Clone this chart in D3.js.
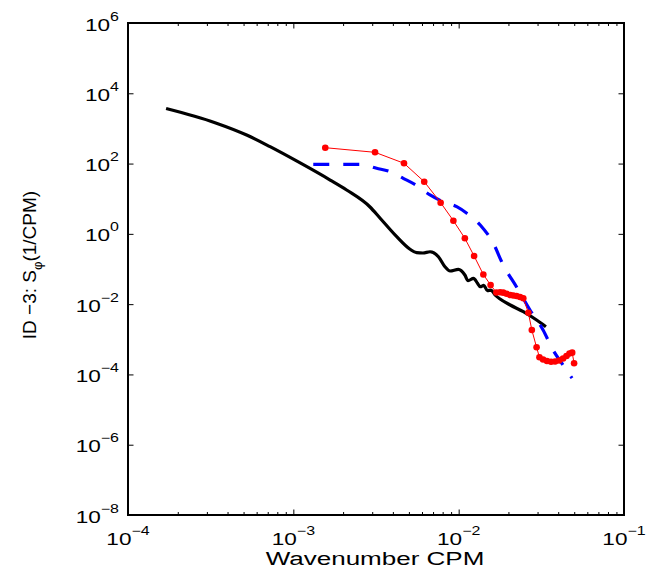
<!DOCTYPE html>
<html>
<head>
<meta charset="utf-8">
<script src="https://cdn.jsdelivr.net/npm/d3@7"></script>
<style>
  body { margin: 0; background: #fff; }
  svg { display: block; }
  text { font-family: "Liberation Sans", Arial, Helvetica, sans-serif; fill: #000; }
</style>
</head>
<body>
<div id="canvas"></div>
<script>
// tick labels (exponents of 10)
var xTicks = [1e-4, 1e-3, 1e-2, 1e-1],
    xTickLabels = ['\u22124', '\u22123', '\u22122', '\u22121'];
var yTicks = [1e-8, 1e-6, 1e-4, 1e-2, 1, 1e2, 1e4, 1e6],
    yTickLabels = ['\u22128', '\u22126', '\u22124', '\u22122', '0', '2', '4', '6'];

// black solid spectrum
var blackK = [1.70e-4, 3.36e-4, 5.22e-4, 7.23e-4, 1.10e-3, 1.67e-3, 2.10e-3, 2.91e-3, 3.34e-3, 4.22e-3,
              5.08e-3, 5.57e-3, 6.08e-3, 6.71e-3, 7.54e-3, 8.26e-3, 8.87e-3, 9.96e-3, 1.09e-2, 1.14e-2,
              1.23e-2, 1.30e-2, 1.35e-2, 1.42e-2, 1.49e-2, 1.57e-2, 1.66e-2, 1.78e-2, 2.05e-2, 2.46e-2,
              2.96e-2, 3.37e-2];
var blackS = [3690, 1460, 650, 302, 104, 34.0, 17.7, 5.81, 2.83, 0.830,
              0.364, 0.291, 0.285, 0.310, 0.224, 0.116, 0.0877, 0.0980, 0.0675, 0.0465,
              0.0543, 0.0392, 0.0313, 0.0344, 0.0242, 0.0252, 0.0182, 0.0140, 0.00946, 0.00610,
              0.00354, 0.00228];

// blue dashed model
var blueK = [1.32e-3, 2.53e-3, 3.19e-3, 3.85e-3, 4.62e-3, 5.52e-3, 6.71e-3, 8.04e-3, 9.73e-3, 1.12e-2,
             1.35e-2, 1.62e-2, 1.86e-2, 2.24e-2, 2.70e-2, 3.24e-2, 3.72e-2, 4.28e-2, 4.85e-2];
var blueS = [95.3, 95.3, 73.3, 58.7, 38.1, 24.5, 12.8, 8.22, 5.93, 3.85,
             1.79, 0.538, 0.130, 0.0308, 0.00681, 0.00184, 4.95e-4, 1.85e-4, 7.8e-5];

// red dotted estimate
var redK = [1.56e-3, 3.12e-3, 4.67e-3, 6.19e-3, 7.78e-3, 9.29e-3, 1.09e-2, 1.24e-2, 1.41e-2, 1.56e-2,
            1.69e-2, 1.78e-2, 1.86e-2, 1.95e-2, 2.05e-2, 2.14e-2, 2.24e-2, 2.35e-2, 2.46e-2, 2.64e-2,
            2.77e-2, 2.96e-2, 3.08e-2, 3.24e-2, 3.42e-2, 3.62e-2, 3.83e-2, 4.05e-2, 4.28e-2, 4.49e-2,
            4.68e-2, 4.86e-2, 4.99e-2];
var redS = [283, 209, 102, 30.5, 7.71, 2.37, 0.748, 0.234, 0.0697, 0.0351,
            0.0214, 0.0217, 0.0212, 0.0197, 0.0182, 0.0176, 0.0171, 0.0160, 0.0147, 0.00571,
            0.00184, 5.92e-4, 3.07e-4, 2.66e-4, 2.41e-4, 2.30e-4, 2.33e-4, 2.49e-4, 2.84e-4, 3.34e-4,
            3.94e-4, 4.16e-4, 2.07e-4];

var W = 646, H = 571,
    m = {t: 23, r: 22, b: 56, l: 128},
    w = W - m.l - m.r,
    h = H - m.t - m.b;

var svg = d3.select('#canvas')
    .append('svg')
    .attr('width', W)
    .attr('height', H);

var plot = svg.append('g')
    .attr('transform', 'translate(' + m.l + ',' + m.t + ')');

// Scale
var scaleX = d3.scaleLog().domain([1e-4, 1e-1]).range([0, w]);
var scaleY = d3.scaleLog().domain([1e-8, 1e6]).range([h, 0]);

// minor ticks on x
var xMinor = [];
xTicks.slice(0, -1).forEach(function(d){
  for (var k = 2; k <= 9; k++) xMinor.push(d * k);
});

function drawTicks(axisFn, scale, vals, size, tr){
  var g = plot.append('g')
      .attr('transform', tr)
      .call(axisFn(scale).tickValues(vals).tickSize(size).tickSizeOuter(0).tickFormat(''));
  g.select('.domain').remove();
  g.selectAll('.tick line').attr('stroke', '#000').attr('stroke-width', 1);
}
drawTicks(d3.axisBottom, scaleX, xTicks, -5.5, 'translate(0,' + h + ')');
drawTicks(d3.axisBottom, scaleX, xMinor, -3, 'translate(0,' + h + ')');
drawTicks(d3.axisTop, scaleX, xTicks, -5.5, 'translate(0,0)');
drawTicks(d3.axisTop, scaleX, xMinor, -3, 'translate(0,0)');
drawTicks(d3.axisLeft, scaleY, yTicks, -5.5, 'translate(0,0)');
drawTicks(d3.axisRight, scaleY, yTicks, -5.5, 'translate(' + w + ',0)');

// box
plot.append('rect')
    .attr('width', w).attr('height', h)
    .attr('fill', 'none').attr('stroke', '#000').attr('stroke-width', 2);

// tick labels
var sx = 1.33;
xTicks.forEach(function(d, i){
  var t = plot.append('text')
      .attr('text-anchor', 'middle')
      .attr('transform', 'translate(' + scaleX(d) + ',' + (h + 29.5) + ') scale(' + sx + ',1)')
      .style('font-size', '17px');
  t.append('tspan').text('10');
  t.append('tspan').attr('dy', -10).style('font-size', '12px').text(xTickLabels[i]);
});
yTicks.forEach(function(d, i){
  var t = plot.append('text')
      .attr('text-anchor', 'end')
      .attr('transform', 'translate(-9,' + (scaleY(d) + 7.5) + ') scale(' + sx + ',1)')
      .style('font-size', '17px');
  t.append('tspan').text('10');
  t.append('tspan').attr('dy', -10).style('font-size', '12px').text(yTickLabels[i]);
});

// axis labels
svg.append('text')
    .attr('text-anchor', 'middle')
    .attr('transform', 'translate(375,565) scale(1.37,1)')
    .style('font-size', '19px')
    .text('Wavenumber CPM');

var yl = svg.append('text')
    .attr('text-anchor', 'middle')
    .attr('transform', 'translate(36,265) rotate(-90)')
    .style('font-size', '19px');
yl.append('tspan').text('ID \u22123: S');
yl.append('tspan').attr('dy', 6).style('font-size', '13px').text('\u03c6');
yl.append('tspan').attr('dy', -6).text('(1/CPM)');

// lines
var lineSmooth = d3.line()
    .x(function(d){ return scaleX(d[0]); })
    .y(function(d){ return scaleY(d[1]); })
    .curve(d3.curveMonotoneX);
var lineStraight = d3.line()
    .x(function(d){ return scaleX(d[0]); })
    .y(function(d){ return scaleY(d[1]); });

var black = blackK.map(function(k, i){ return [k, blackS[i]]; });
var blue = blueK.map(function(k, i){ return [k, blueS[i]]; });
var red = redK.map(function(k, i){ return [k, redS[i]]; });

plot.append('path')
    .datum(black)
    .attr('d', lineSmooth)
    .attr('fill', 'none')
    .attr('stroke', '#000')
    .attr('stroke-width', 3.2);

plot.append('path')
    .datum(blue)
    .attr('d', lineSmooth)
    .attr('fill', 'none')
    .attr('stroke', '#0000ff')
    .attr('stroke-width', 3.2)
    .attr('stroke-dasharray', '16,14');

plot.append('path')
    .datum(red)
    .attr('d', lineStraight)
    .attr('fill', 'none')
    .attr('stroke', '#ff0000')
    .attr('stroke-width', 1);

plot.selectAll('circle.pt')
    .data(red)
    .enter()
    .append('circle')
    .attr('class', 'pt')
    .attr('cx', function(d){ return scaleX(d[0]); })
    .attr('cy', function(d){ return scaleY(d[1]); })
    .attr('r', 3.3)
    .attr('fill', '#ff0000');
</script>
</body>
</html>
